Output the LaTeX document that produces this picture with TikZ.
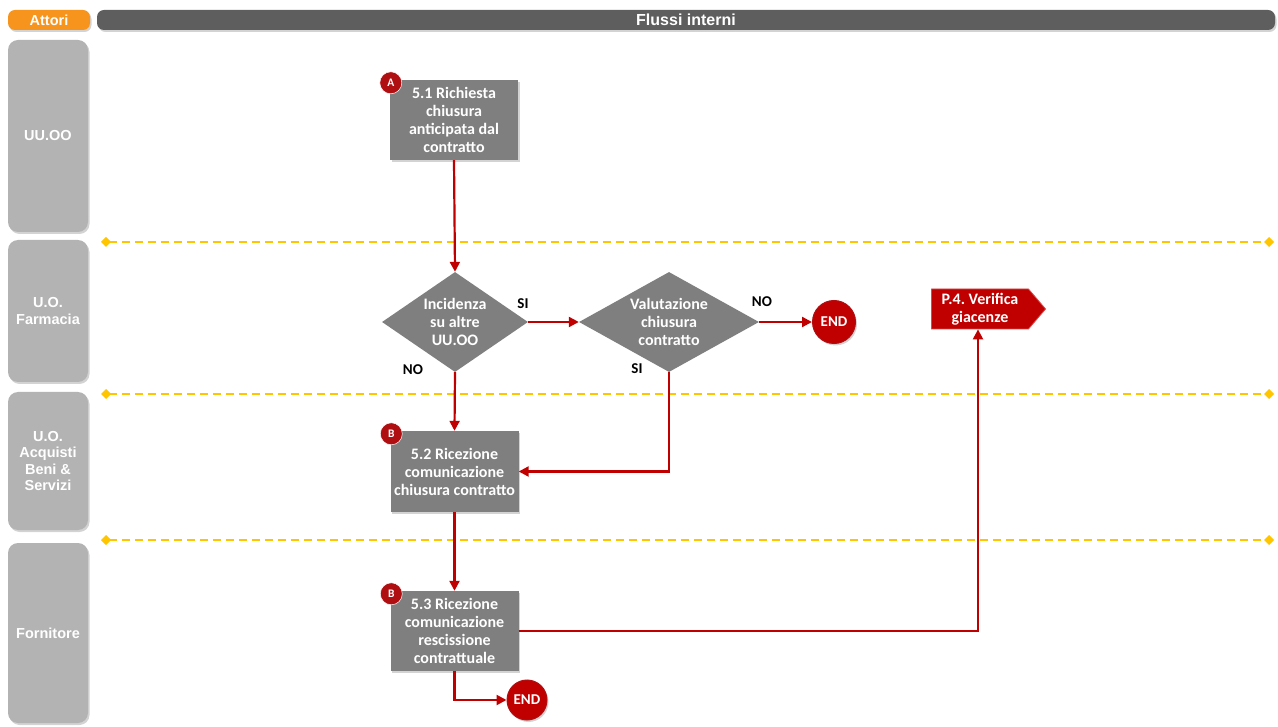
\documentclass[tikz,border=0pt]{standalone}
\usepackage{fontspec}
\setmainfont{Carlito}
\newfontfamily\arialf{Liberation Sans}
\usetikzlibrary{shapes.geometric,shapes.symbols,arrows.meta,shadows}
\definecolor{lanegray}{HTML}{B3B3B3}
\definecolor{headgray}{HTML}{5E5E5E}
\definecolor{attorange}{HTML}{F7941D}
\definecolor{boxgray}{HTML}{7F7F7F}
\definecolor{flowred}{HTML}{C00000}
\definecolor{badgered}{HTML}{B00F12}
\definecolor{sepyellow}{HTML}{FFC600}
\frenchspacing
\begin{document}
\begin{tikzpicture}[x=1pt,y=-1pt,
  shad/.style={drop shadow={opacity=0.35,shadow xshift=1.5pt,shadow yshift=-2pt}},
  lane/.style={fill=lanegray,rounded corners=10pt,minimum width=80pt,text=white,
    font=\arialf\bfseries\fontsize{14.5}{16.5}\selectfont,align=center,inner sep=0pt,shad},
  headbar/.style={rounded corners=7pt,minimum height=20pt,text=white,inner sep=0pt,shad},
  sepline/.style={draw=sepyellow,line width=2.6pt,dash pattern=on 8pt off 5pt,
    {Diamond[length=10pt,width=10pt,sep=0pt]}-{Diamond[length=10pt,width=10pt,sep=0pt]}},
  taskbox/.style={fill=boxgray,text=white,align=center,inner sep=1pt,
    minimum width=128pt,font=\bfseries\fontsize{16}{18}\selectfont,shad},
  decision/.style={diamond,fill=boxgray,inner sep=0pt},
  dtext/.style={text=white,align=center,inner sep=0pt,font=\bfseries\fontsize{16}{18}\selectfont},
  endnode/.style={circle,fill=flowred,draw=badgered,line width=1pt,text=white,inner sep=0pt,
    font=\bfseries\fontsize{15}{16}\selectfont,shad},
  badge/.style={circle,fill=badgered,draw=white,line width=0.5pt,text=white,minimum size=22pt,
    inner sep=0pt,font=\bfseries\fontsize{11.5}{12}\selectfont},
  flow/.style={draw=flowred,line width=2.2pt,-{Triangle[length=10pt,width=10pt]}},
  lbl/.style={font=\bfseries\fontsize{15}{16}\selectfont,text=black}
]
\useasboundingbox (0,0) rectangle (1278,727);

% header
\node[headbar,fill=attorange,minimum width=82pt,font=\arialf\bfseries\fontsize{14.5}{16}\selectfont] (attori) at (49,20) {Attori};
\node[headbar,fill=headgray,minimum width=1178pt,font=\arialf\bfseries\fontsize{16}{18}\selectfont] (flussi) at (686,20) {Flussi interni};

% lanes
\node[lane,minimum height=192pt] (l1) at (48,136) {UU.OO};
\node[lane,minimum height=142pt] (l2) at (48,311) {U.O.\\Farmacia};
\node[lane,minimum height=138pt] (l3) at (48,461) {U.O.\\Acquisti\\Beni \&\\Servizi};
\node[lane,minimum height=180pt] (l4) at (48,633) {Fornitore};

% separators
\coordinate (s1l) at (101,242); \coordinate (s1r) at (1274,242);
\coordinate (s2l) at (101,394); \coordinate (s2r) at (1274,394);
\coordinate (s3l) at (101,540); \coordinate (s3r) at (1274,540);
\draw[sepline] (s1l) -- (s1r);
\draw[sepline] (s2l) -- (s2r);
\draw[sepline] (s3l) -- (s3r);

% tasks
\node[taskbox,minimum height=80pt] (b51) at (454,120)
  {5.1 Richiesta\\chiusura\\anticipata dal\\contratto};
\node[taskbox,minimum height=81pt] (b52) at (454.5,471.5)
  {5.2 Ricezione\\comunicazione\\chiusura contratto};
\node[taskbox,minimum height=80pt] (b53) at (454.5,631)
  {5.3 Ricezione\\comunicazione\\rescissione\\contrattuale};

\node[badge] (ba) at ([xshift=1pt,yshift=-3pt]b51.north west) {A};
\node[badge] (bb1) at ([xshift=1pt,yshift=-3pt]b52.north west) {B};
\node[badge] (bb2) at ([xshift=1pt,yshift=-3pt]b53.north west) {B};

% decisions
\node[decision,minimum width=146pt,minimum height=100pt] (d1) at (455,322) {};
\node[dtext] (d1t) at (d1.center) {Incidenza\\su altre\\UU.OO};
\node[decision,minimum width=180pt,minimum height=100pt] (d2) at (669,322) {};
\node[dtext] (d2t) at (d2.center) {Valutazione\\chiusura\\contratto};

% ends
\node[endnode,minimum size=43pt] (end1) at (834,322) {END};
\node[endnode,minimum size=40pt] (end2) at (527,700) {END};

% P.4
\node[signal,signal to=east,signal pointer angle=99,fill=flowred,draw=flowred!70!white,
  line width=0.8pt,text=white,align=center,minimum width=114pt,minimum height=40pt,inner sep=1pt,
  font=\bfseries\fontsize{16}{18}\selectfont] (p4) at (980,309) {P.4. Verifica\\giacenze};

% labels
\node[lbl] (si1) at (523,304) {SI};
\node[lbl] (no1) at (413,370) {NO};
\node[lbl] (si2) at (637,369) {SI};
\node[lbl] (no2) at (762,302) {NO};

% connectors
\draw[flow] (b51.south) -- (d1.north);
\draw[flow] (d1.east) -- (d2.west);
\draw[flow] (d2.east) -- (end1.west);
\draw[flow] (d1.south) -- (b52.north);
\draw[flow] (d2.south) |- (b52.east);
\draw[flow] (b52.south) -- (b53.north);
\draw[flow] (b53.east) -| ([xshift=-2pt]p4.south);
\draw[flow] (b53.south) |- (end2.west);
\end{tikzpicture}
\end{document}
